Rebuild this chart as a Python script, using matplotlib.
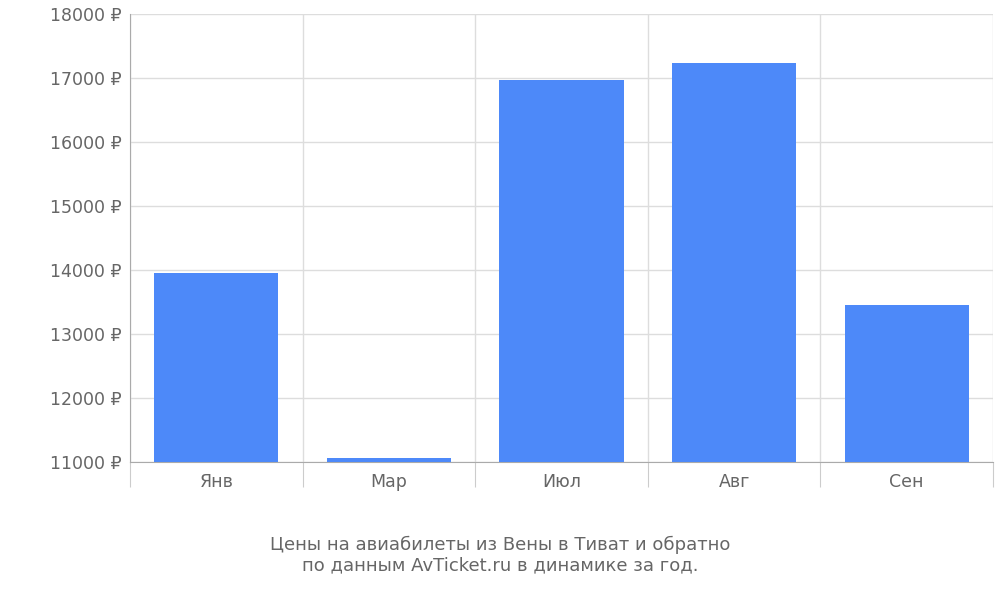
import numpy as np
import matplotlib.pyplot as plt

months = ['Янв', 'Мар', 'Июл', 'Авг', 'Сен']
prices = [13950, 11060, 16965, 17235, 13455]
yticks = [11000, 12000, 13000, 14000, 15000, 16000, 17000, 18000]

fig = plt.figure(figsize=(10, 6), dpi=100)
ax = fig.add_axes([0.13, 0.23, 0.863, 0.747])

x = np.arange(len(months))
ax.bar(x, np.array(prices) - 11000, bottom=11000, width=0.72, color='#4d89f9', zorder=3)

ax.set_xlim(-0.5, len(months) - 0.5)
ax.set_ylim(11000, 18000)
ax.set_yticks(yticks)
ax.set_yticklabels([f'{v} ₽' for v in yticks], fontsize=12.5, color='#666666')

ax.set_xticks(np.arange(-0.5, len(months)), minor=False)
ax.set_xticklabels([])
ax.set_xticks(x, minor=True)
ax.set_xticklabels(months, minor=True, fontsize=12.5, color='#666666')
ax.tick_params(axis='x', which='major', length=18, color='#cccccc')
ax.tick_params(axis='x', which='minor', length=0, pad=8)
ax.tick_params(axis='y', length=0, pad=6)

ax.grid(True, color='#dddddd', linewidth=1, zorder=0)
for s in ['top', 'right']:
    ax.spines[s].set_visible(False)
ax.spines['left'].set_color('#aaaaaa')
ax.spines['bottom'].set_color('#aaaaaa')

fig.text(0.5, 0.075, 'Цены на авиабилеты из Вены в Тиват и обратно\nпо данным AvTicket.ru в динамике за год.',
         ha='center', va='center', fontsize=13, color='#666666', linespacing=1.2)

fig.savefig('out.png')
